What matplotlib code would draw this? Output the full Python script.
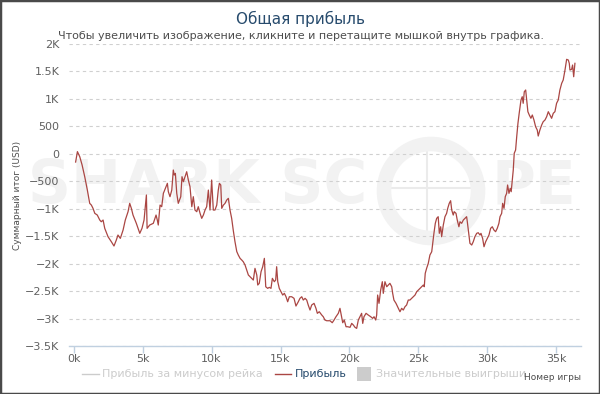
import matplotlib

matplotlib.use("Agg")

import matplotlib.pyplot as plt
from matplotlib.lines import Line2D
from matplotlib.patches import Ellipse, Rectangle
from matplotlib.ticker import FuncFormatter

# game number (thousands) and cumulative profit (USD)
games_k = [
    0.15, 0.28, 0.45, 0.62, 0.81, 1.00, 1.17, 1.29, 1.41, 1.54, 1.72, 1.90, 2.01, 2.14, 2.26,
    2.50, 2.74, 2.93, 3.10, 3.22, 3.39, 3.59, 3.75, 3.95, 4.07, 4.19, 4.31, 4.55, 4.80, 4.96,
    5.11, 5.28, 5.33, 5.52, 5.78, 5.98, 6.07, 6.14, 6.27, 6.39, 6.51, 6.70, 6.80, 6.87, 6.99,
    7.12, 7.23, 7.30, 7.38, 7.48, 7.59, 7.77, 7.86, 7.96, 8.08, 8.20, 8.32, 8.44, 8.57, 8.68,
    8.80, 8.93, 9.04, 9.17, 9.29, 9.41, 9.53, 9.65, 9.77, 9.89, 10.01, 10.13, 10.25, 10.38,
    10.49, 10.57, 10.67, 10.74, 10.86, 10.98, 11.10, 11.22, 11.34, 11.46, 11.58, 11.70, 11.83,
    11.94, 12.07, 12.19, 12.30, 12.43, 12.55, 12.67, 12.79, 12.91, 13.03, 13.15, 13.28, 13.35,
    13.46, 13.59, 13.71, 13.83, 13.93, 14.07, 14.19, 14.31, 14.41, 14.55, 14.65, 14.72, 14.80,
    14.91, 15.04, 15.16, 15.28, 15.40, 15.52, 15.64, 15.81, 15.98, 16.12, 16.29, 16.41, 16.54,
    16.65, 16.78, 16.90, 17.01, 17.14, 17.26, 17.43, 17.57, 17.67, 17.81, 17.99, 18.10, 18.22,
    18.35, 18.59, 18.75, 18.88, 19.02, 19.19, 19.31, 19.38, 19.51, 19.62, 19.75, 19.87, 20.04,
    20.16, 20.28, 20.40, 20.52, 20.64, 20.76, 20.88, 20.96, 21.05, 21.20, 21.36, 21.54, 21.68,
    21.78, 21.90, 21.97, 22.04, 22.14, 22.26, 22.38, 22.45, 22.57, 22.70, 22.81, 22.93, 23.06,
    23.13, 23.22, 23.37, 23.54, 23.66, 23.78, 23.90, 24.02, 24.14, 24.26, 24.38, 24.51, 24.62,
    24.75, 24.87, 24.99, 25.11, 25.23, 25.35, 25.42, 25.49, 25.59, 25.71, 25.83, 25.96, 26.03,
    26.12, 26.22, 26.32, 26.43, 26.51, 26.61, 26.68, 26.80, 26.92, 27.04, 27.12, 27.23, 27.33,
    27.41, 27.52, 27.59, 27.72, 27.81, 27.93, 28.01, 28.13, 28.25, 28.37, 28.49, 28.54, 28.64,
    28.73, 28.86, 28.97, 29.09, 29.22, 29.33, 29.46, 29.53, 29.65, 29.75, 29.87, 29.99, 30.11,
    30.23, 30.35, 30.47, 30.59, 30.71, 30.83, 30.91, 31.03, 31.10, 31.20, 31.29, 31.39, 31.46,
    31.56, 31.65, 31.72, 31.80, 31.87, 31.94, 32.04, 32.12, 32.21, 32.30, 32.43, 32.52, 32.59,
    32.67, 32.77, 32.84, 32.93, 33.03, 33.15, 33.25, 33.37, 33.49, 33.61, 33.68, 33.80, 33.93,
    34.04, 34.17, 34.29, 34.41, 34.53, 34.65, 34.77, 34.89, 35.01, 35.13, 35.25, 35.38, 35.49,
    35.62, 35.74, 35.86, 35.93, 35.98, 36.10, 36.17, 36.25, 36.34,
]
profit = [
    -150, 40, -53, -204, -417, -660, -902, -933, -993, -1084, -1115, -1206, -1237, -1206, -1357,
    -1510, -1601, -1679, -1570, -1479, -1540, -1388, -1206, -1054, -902, -993, -1115, -1266, -1448, -1357,
    -1206, -750, -1357, -1297, -1266, -1115, -1206, -1297, -933, -963, -720, -599, -538, -690, -781,
    -660, -295, -386, -356, -720, -902, -781, -417, -508, -417, -326, -477, -599, -963, -781,
    -1024, -1054, -963, -1084, -1175, -1115, -1024, -963, -660, -1024, -477, -1024, -1024, -933,
    -660, -538, -568, -993, -933, -902, -842, -811, -1024, -1175, -1400, -1600, -1780,
    -1843, -1904, -1934, -1965, -2025, -2116, -2207, -2238, -2268, -2299, -2086, -2207, -2390,
    -2359, -2147, -2056, -1904, -2421, -2450, -2432, -2450, -2268, -2329, -2299, -2056, -2329,
    -2450, -2512, -2572, -2541, -2603, -2694, -2603, -2603, -2632, -2772, -2694, -2632, -2603,
    -2663, -2632, -2663, -2754, -2845, -2754, -2723, -2814, -2905, -2876, -2936, -2967, -3027,
    -3040, -3040, -3076, -3027, -2967, -2905, -2814, -2905, -3076, -3027, -3149, -3149, -3160,
    -3088, -3118, -3160, -3179, -3027, -2967, -2905, -3088, -2967, -2905, -2936, -2967, -2997,
    -2967, -3027, -2936, -2572, -2723, -2481, -2329, -2541, -2329, -2420, -2390, -2359, -2420,
    -2541, -2663, -2723, -2814, -2876, -2814, -2845, -2785, -2754, -2663, -2663, -2632, -2603,
    -2572, -2512, -2481, -2450, -2420, -2390, -2420, -2177, -2086, -1995, -1843, -1783, -1630,
    -1448, -1266, -1175, -1145, -1448, -1328, -1510, -1297, -1145, -1084, -993, -902, -854,
    -1024, -1115, -1054, -1084, -1206, -1328, -1237, -1266, -1206, -1175, -1145, -1237, -1448,
    -1630, -1661, -1601, -1510, -1448, -1437, -1479, -1448, -1540, -1692, -1601, -1540, -1479,
    -1357, -1328, -1388, -1418, -1357, -1266, -1145, -1084, -902, -993, -781, -720, -568,
    -720, -629, -690, -477, -295, 9, 69, 311, 556, 738, 980, 1040, 920,
    1131, 1162, 980, 767, 707, 647, 707, 616, 494, 433, 324, 433, 525,
    585, 616, 676, 767, 707, 647, 738, 767, 920, 980, 1162, 1284, 1344,
    1526, 1721, 1708, 1648, 1526, 1539, 1617, 1404, 1648,
]

x_ticks = [0, 5000, 10000, 15000, 20000, 25000, 30000, 35000]
y_ticks = [-3500, -3000, -2500, -2000, -1500, -1000, -500, 0, 500, 1000, 1500, 2000]

TITLE = "Общая прибыль"
SUBTITLE = "Чтобы увеличить изображение, кликните и перетащите мышкой внутрь графика."
Y_LABEL = "Суммарный итог (USD)"
X_LABEL = "Номер игры"
LEGEND_LABELS = ["Прибыль за минусом рейка", "Прибыль", "Значительные выигрыши"]

LINE_COLOR = "#AA4643"
HIDDEN_COLOR = "#cccccc"
TITLE_COLOR = "#274b6d"
LABEL_COLOR = "#606060"
AXIS_COLOR = "#C0D0E0"
WATERMARK = "#f2f2f2"

W, H = 600, 394


def fx(px):
    return px / W


def fy(py):
    return 1 - py / H


def fmt_y(v, _pos):
    if v == 0:
        return "0"
    if abs(v) >= 1000:
        s = f"{abs(v) / 1000:g}K"
    else:
        s = f"{abs(v):g}"
    return ("\u2212" if v < 0 else "") + s


fig = plt.figure(figsize=(W / 100, H / 100), dpi=100)
fig.patch.set_facecolor("white")

# faint "SHARK SCOPE" watermark behind the plot
fig.text(fx(28), fy(187), "SHARK SC", fontsize=43, fontweight="bold",
         color=WATERMARK, ha="left", va="center", zorder=0)
fig.text(fx(576), fy(187), "PE", fontsize=43, fontweight="bold",
         color=WATERMARK, ha="right", va="center", zorder=0)
ring_r = 47
fig.patches.append(Ellipse((fx(431), fy(191)), 2 * ring_r / W, 2 * ring_r / H,
                           transform=fig.transFigure, fill=False, ec=WATERMARK, lw=10.5, zorder=0))
fig.lines.append(Line2D([fx(380), fx(484)], [fy(188), fy(188)], transform=fig.transFigure,
                        color="#ebebeb", lw=1.5, zorder=0))
fig.lines.append(Line2D([fx(427), fx(427)], [fy(147), fy(233)], transform=fig.transFigure,
                        color="#ebebeb", lw=1.5, zorder=0))

ax = fig.add_axes([fx(69), fy(346), fx(581) - fx(69), fy(44) - fy(346)])
ax.set_facecolor("none")
ax.set_zorder(1)

ax.plot([g * 1000 for g in games_k], profit, color=LINE_COLOR, lw=0.9, zorder=3)

ax.set_xlim(-330, 36780)
ax.set_ylim(-3500, 2000)
ax.set_xticks(x_ticks)
ax.set_yticks(y_ticks)
ax.xaxis.set_major_formatter(FuncFormatter(lambda v, _p: f"{v / 1000:g}k"))
ax.yaxis.set_major_formatter(FuncFormatter(fmt_y))

for side in ("top", "right", "left"):
    ax.spines[side].set_visible(False)
ax.spines["bottom"].set_color(AXIS_COLOR)
ax.spines["bottom"].set_linewidth(1)
ax.spines["bottom"].set_zorder(2)

ax.tick_params(axis="x", length=5, width=1, color=AXIS_COLOR, labelsize=8,
               labelcolor=LABEL_COLOR, pad=1)
ax.tick_params(axis="y", length=0, labelsize=8, labelcolor=LABEL_COLOR, pad=7)
ax.grid(axis="y", color="#d0d0d0", lw=0.8, linestyle=(0, (3, 3)))
ax.set_axisbelow(True)

fig.text(fx(18), fy(195), Y_LABEL, rotation=90, fontsize=6.5, color="#4d4d4d",
         ha="center", va="center")

fig.text(0.5, fy(19), TITLE, fontsize=11, color=TITLE_COLOR, ha="center", va="center")
fig.text(fx(301), fy(36), SUBTITLE, fontsize=8, color="#4d4d4d", ha="center", va="center")

# legend row, laid out like the original
ly = fy(374)
fig.lines.append(Line2D([fx(82), fx(99)], [ly, ly], transform=fig.transFigure,
                        color=HIDDEN_COLOR, lw=1))
fig.text(fx(102), ly, LEGEND_LABELS[0], fontsize=8, color=HIDDEN_COLOR, ha="left", va="center")
fig.lines.append(Line2D([fx(275), fx(291)], [ly, ly], transform=fig.transFigure,
                        color=LINE_COLOR, lw=1))
fig.text(fx(295), ly, LEGEND_LABELS[1], fontsize=8, color=TITLE_COLOR, ha="left", va="center")
fig.patches.append(Rectangle((fx(357), fy(381)), 14 / W, 14 / H, transform=fig.transFigure,
                             fc=HIDDEN_COLOR, ec="none"))
fig.text(fx(376), ly, LEGEND_LABELS[2], fontsize=8, color=HIDDEN_COLOR, ha="left", va="center")
fig.text(fx(553), fy(377), X_LABEL, fontsize=6.5, color="#4d4d4d", ha="center", va="center")

# dark outer frame of the widget
fig.patches.append(Rectangle((0, 0), 1, 1, transform=fig.transFigure, fill=False,
                             ec="#4a4a4a", lw=2.5))

fig.savefig("out.png", dpi=100, facecolor="white")
